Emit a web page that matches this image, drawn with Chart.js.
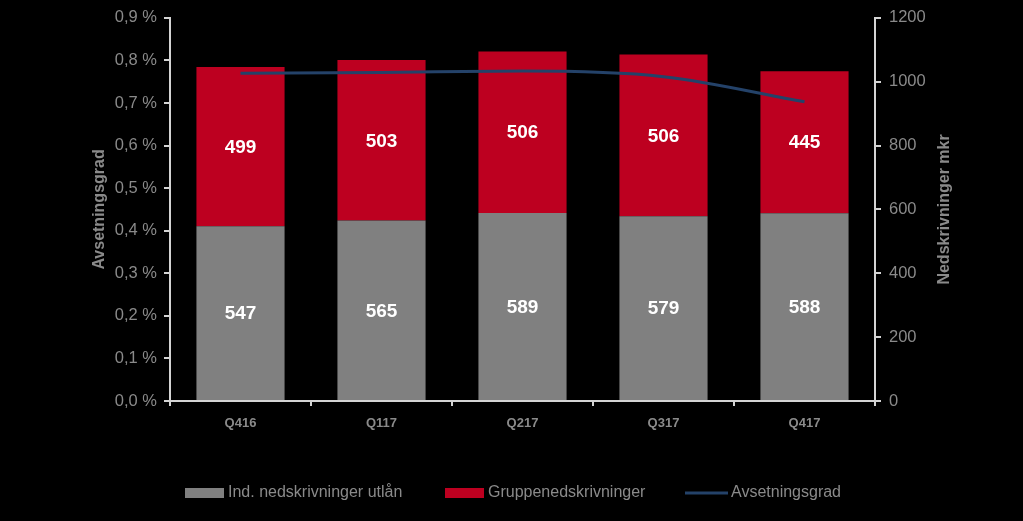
<!DOCTYPE html>
<html>
<head>
<meta charset="utf-8">
<script src="https://cdn.jsdelivr.net/npm/chart.js@4.4.1/dist/chart.umd.min.js"></script>
<style>
    html, body { margin: 0; padding: 0; background: #000; }
    #wrap { width: 1023px; height: 521px; position: relative; }
</style>
</head>
<body>
<div id="wrap"><canvas id="chart"></canvas></div>
<script>
// data
const quarters = ['Q416', 'Q117', 'Q217', 'Q317', 'Q417'];
const indNedskrivninger = [547, 565, 589, 579, 588];
const gruppeNedskrivninger = [499, 503, 506, 506, 445];
const avsetningsgrad = [0.77, 0.772, 0.775, 0.762, 0.703];
const pctTicks = [0, 0.1, 0.2, 0.3, 0.4, 0.5, 0.6, 0.7, 0.8, 0.9];

const grayBar = '#808080';
const redBar = '#bd0020';
const lineBlue = '#244269';
const axisText = '#8a8a8a';
const axisLine = '#d4d4d4';
const narrow = '"Liberation Sans Narrow", "Arial Narrow", "Liberation Sans", Arial, sans-serif';
const sans = '"Liberation Sans", Arial, sans-serif';

// white numbers centred in each bar segment
const barLabels = {
    id: 'barLabels',
    afterDatasetsDraw(chart) {
        const ctx = chart.ctx;
        ctx.save();
        ctx.fillStyle = '#fff';
        ctx.font = 'bold 19px ' + sans;
        ctx.textAlign = 'center';
        ctx.textBaseline = 'middle';
        chart.data.datasets.forEach((ds, i) => {
            if (ds.type !== 'bar') return;
            chart.getDatasetMeta(i).data.forEach((bar, j) => {
                const mid = (bar.y + bar.base) / 2;
                ctx.fillText(String(ds.data[j]), bar.x, mid + 1);
            });
        });
        ctx.restore();
    }
};

// rotated axis titles and the legend row at the bottom
const extras = {
    id: 'extras',
    afterDraw(chart) {
        const ctx = chart.ctx;
        const area = chart.chartArea;
        ctx.save();
        ctx.fillStyle = axisText;
        ctx.font = 'bold 16px ' + sans;
        ctx.textAlign = 'center';
        ctx.textBaseline = 'middle';
        const midY = (area.top + area.bottom) / 2;
        [[100, 'Avsetningsgrad'], [945, 'Nedskrivninger mkr']].forEach(([x, t]) => {
            ctx.save();
            ctx.translate(x, midY);
            ctx.rotate(-Math.PI / 2);
            ctx.fillText(t, 0, 0);
            ctx.restore();
        });

        // legend
        const items = [
            { x: 185, label: chart.data.datasets[0].label, color: grayBar, kind: 'box' },
            { x: 445, label: chart.data.datasets[1].label, color: redBar, kind: 'box' },
            { x: 685, label: chart.data.datasets[2].label, color: lineBlue, kind: 'line' }
        ];
        const ly = 493;
        ctx.font = '16px ' + narrow;
        ctx.textAlign = 'left';
        items.forEach(it => {
            ctx.fillStyle = it.color;
            if (it.kind === 'box') ctx.fillRect(it.x, ly - 5, 39, 10);
            else ctx.fillRect(it.x, ly - 1.5, 43, 3);
            ctx.fillStyle = axisText;
            ctx.fillText(it.label, it.x + (it.kind === 'box' ? 43 : 46), ly);
        });
        ctx.restore();
    }
};

const ctx = document.getElementById('chart').getContext('2d');
new Chart(ctx, {
    data: {
        labels: quarters,
        datasets: [
            {
                type: 'bar',
                label: 'Ind. nedskrivninger utlån',
                data: indNedskrivninger,
                backgroundColor: grayBar,
                yAxisID: 'yR',
                stack: 's',
                order: 2,
                barPercentage: 0.625,
                categoryPercentage: 1
            },
            {
                type: 'bar',
                label: 'Gruppenedskrivninger',
                data: gruppeNedskrivninger,
                backgroundColor: redBar,
                yAxisID: 'yR',
                stack: 's',
                order: 2,
                barPercentage: 0.625,
                categoryPercentage: 1
            },
            {
                type: 'line',
                label: 'Avsetningsgrad',
                data: avsetningsgrad,
                borderColor: lineBlue,
                backgroundColor: lineBlue,
                borderWidth: 3,
                pointRadius: 0,
                tension: 0.4,
                cubicInterpolationMode: 'monotone',
                yAxisID: 'yL',
                order: 0
            }
        ]
    },
    options: {
        responsive: true,
        maintainAspectRatio: false,
        animation: false,
        layout: { padding: { top: 17, left: 0, right: 0, bottom: 0 } },
        plugins: {
            legend: { display: false },
            tooltip: { enabled: false }
        },
        scales: {
            x: {
                stacked: true,
                offset: true,
                border: { color: axisLine, width: 2 },
                grid: { drawOnChartArea: false, drawTicks: true, tickLength: 5, color: axisLine, lineWidth: 2, offset: true },
                ticks: { color: axisText, font: { family: narrow, size: 13, weight: 'bold' }, padding: 10 },
                afterFit(scale) { scale.height = 120; }
            },
            yL: {
                position: 'left',
                min: 0,
                max: 0.9,
                afterBuildTicks(scale) { scale.ticks = pctTicks.map(v => ({ value: v })); },
                border: { color: axisLine, width: 2 },
                grid: { drawOnChartArea: false, tickLength: 6, color: axisLine, lineWidth: 2 },
                ticks: {
                    color: axisText,
                    font: { family: sans, size: 16.5 },
                    padding: 7,
                    callback: v => v.toFixed(1).replace('.', ',') + ' %'
                },
                afterFit(scale) { scale.width = 170; }
            },
            yR: {
                position: 'right',
                stacked: true,
                min: 0,
                max: 1200,
                border: { color: axisLine, width: 2 },
                grid: { drawOnChartArea: false, tickLength: 6, color: axisLine, lineWidth: 2 },
                ticks: {
                    stepSize: 200,
                    color: axisText,
                    font: { family: sans, size: 16.5 },
                    padding: 8,
                    callback: v => String(v)
                },
                afterFit(scale) { scale.width = 148; }
            }
        }
    },
    plugins: [barLabels, extras]
});
</script>
</body>
</html>
